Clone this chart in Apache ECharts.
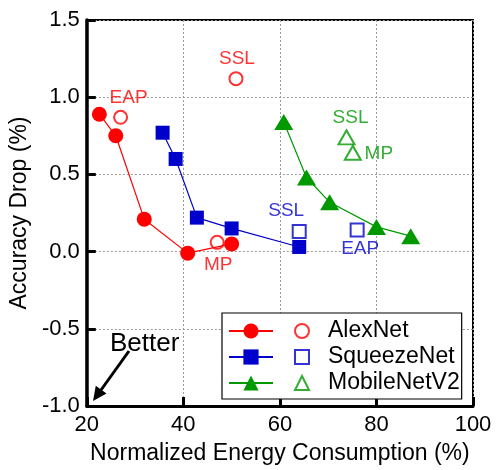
<!DOCTYPE html>
<html>
<head>
<meta charset="utf-8">
<script src="https://cdn.jsdelivr.net/npm/echarts@6/dist/echarts.min.js"></script>
<style>html,body{margin:0;padding:0;background:#fff;}#c{width:497px;height:470px;}</style>
</head>
<body>
<div id="c"></div>
<script>
// ---- data ----
const netNames = ['AlexNet', 'SqueezeNet', 'MobileNetV2'];
// proposed method curves (filled markers)
const alexX = [22.6, 26.0, 31.9, 40.9, 50.0];
const alexY = [0.89, 0.75, 0.21, -0.01, 0.05];
const squeezeX = [35.7, 38.4, 42.8, 50.0, 64.0];
const squeezeY = [0.77, 0.60, 0.22, 0.15, 0.03];
const mobileX = [60.8, 65.5, 70.3, 80.0, 87.1];
const mobileY = [0.84, 0.48, 0.32, 0.16, 0.10];
// other methods (hollow markers)
const alexOtherNames = ['EAP', 'SSL', 'MP'];
const alexOtherX = [27.0, 50.9, 47.0];
const alexOtherY = [0.87, 1.12, 0.06];
const squeezeOtherNames = ['SSL', 'EAP'];
const squeezeOtherX = [64.0, 76.0];
const squeezeOtherY = [0.13, 0.14];
const mobileOtherNames = ['SSL', 'MP'];
const mobileOtherX = [73.8, 75.1];
const mobileOtherY = [0.74, 0.64];
// axes
const xTicks = [20, 40, 60, 80, 100];
const yTicks = [-1.0, -0.5, 0.0, 0.5, 1.0, 1.5];
const xTitle = 'Normalized Energy Consumption (%)';
const yTitle = 'Accuracy Drop (%)';
const betterText = 'Better';

// ---- styles ----
const FONT = "'Liberation Sans', Arial, sans-serif";
const colors = ['#ff0000', '#0000cc', '#009900'];
const symbols = ['circle', 'rect', 'triangle'];
const filledSizes = [15, 14, [19, 16]];
const hollowSizes = [13, 13, [16, 14]];
const labelOffsets = [
  {EAP: [8, -20], SSL: [1, -20], MP: [1, 22]},
  {SSL: [-13, -21], EAP: [3, 19]},
  {SSL: [4, -20], MP: [26, 1]}
];

const curves = [[alexX, alexY], [squeezeX, squeezeY], [mobileX, mobileY]];
const others = [
  [alexOtherNames, alexOtherX, alexOtherY],
  [squeezeOtherNames, squeezeOtherX, squeezeOtherY],
  [mobileOtherNames, mobileOtherX, mobileOtherY]
];

const series = [];
curves.forEach(([xs, ys], i) => {
  series.push({
    name: netNames[i] + ' curve',
    type: 'line',
    data: xs.map((x, k) => [x, ys[k]]),
    symbol: symbols[i],
    symbolSize: filledSizes[i],
    showAllSymbol: true,
    lineStyle: {color: colors[i], width: 1.2},
    itemStyle: {color: colors[i]},
    z: 3,
    animation: false
  });
});
others.forEach(([names, xs, ys], i) => {
  series.push({
    name: netNames[i],
    type: 'scatter',
    data: xs.map((x, k) => ({
      name: names[k],
      value: [x, ys[k]],
      label: {offset: labelOffsets[i][names[k]]}
    })),
    symbol: symbols[i],
    symbolSize: hollowSizes[i],
    itemStyle: {color: 'rgba(255,255,255,0)', borderColor: colors[i], borderWidth: 2},
    label: {
      show: true, position: 'inside', formatter: p => p.name,
      color: colors[i], fontSize: 19, fontFamily: FONT
    },
    z: 4,
    animation: false
  });
});

const chart = echarts.init(document.getElementById('c'), null, {renderer: 'canvas'});
chart.setOption({
  backgroundColor: '#fff',
  animation: false,
  grid: {left: 85, right: 24, top: 20, bottom: 61, show: true, borderColor: '#000', borderWidth: 2, backgroundColor: 'transparent'},
  xAxis: {
    type: 'value', min: xTicks[0], max: xTicks[xTicks.length - 1], interval: 20,
    name: xTitle, nameLocation: 'middle', nameGap: 36,
    nameTextStyle: {fontSize: 23, fontFamily: FONT, color: '#000'},
    axisLine: {show: true, onZero: false, lineStyle: {color: '#000', width: 3}},
    axisTick: {show: true, inside: true, length: 9, lineStyle: {color: '#000', width: 3}},
    axisLabel: {fontSize: 22, fontFamily: FONT, color: '#000', margin: 8},
    splitLine: {show: true, lineStyle: {color: '#999', type: [2, 2], width: 1}}
  },
  yAxis: {
    type: 'value', min: yTicks[0], max: yTicks[yTicks.length - 1], interval: 0.5,
    name: yTitle, nameLocation: 'middle', nameGap: 52,
    nameTextStyle: {fontSize: 23, fontFamily: FONT, color: '#000'},
    axisLine: {show: true, onZero: false, lineStyle: {color: '#000', width: 3.5}},
    axisTick: {show: true, inside: true, length: 9, lineStyle: {color: '#000', width: 3}},
    axisLabel: {fontSize: 22, fontFamily: FONT, color: '#000', margin: 7, formatter: v => v.toFixed(1)},
    splitLine: {show: true, lineStyle: {color: '#999', type: [2, 2], width: 1}}
  },
  legend: [
    {
      data: netNames.map(n => n + ' curve'),
      orient: 'vertical', left: 228, top: 318, padding: 0, itemGap: 0,
      itemWidth: 44, itemHeight: 19, selectedMode: false, z: 6,
      formatter: () => ' ',
      textStyle: {fontSize: 23, lineHeight: 26, fontFamily: FONT, color: '#000'}
    },
    {
      data: netNames,
      orient: 'vertical', left: 222, top: 313, padding: [5, 2, 3, 72], itemGap: 0,
      itemWidth: 14, itemHeight: 14, selectedMode: false, z: 5,
      backgroundColor: '#fff', borderColor: '#000', borderWidth: 1.2,
      textStyle: {fontSize: 23, lineHeight: 26, fontFamily: FONT, color: '#000', padding: [0, 0, 0, 14]}
    }
  ],
  graphic: [
    {type: 'text', left: 110, top: 331, z: 10, style: {text: betterText, fontSize: 26, fontFamily: FONT, fill: '#000'}},
    {type: 'line', z: 10, shape: {x1: 129, y1: 351, x2: 101, y2: 390}, style: {stroke: '#000', lineWidth: 3}},
    {type: 'polygon', z: 10, shape: {points: [[93, 401], [106.5, 393.5], [95.8, 385.8]]}, style: {fill: '#000'}}
  ],
  series: series
});
</script>
</body>
</html>
